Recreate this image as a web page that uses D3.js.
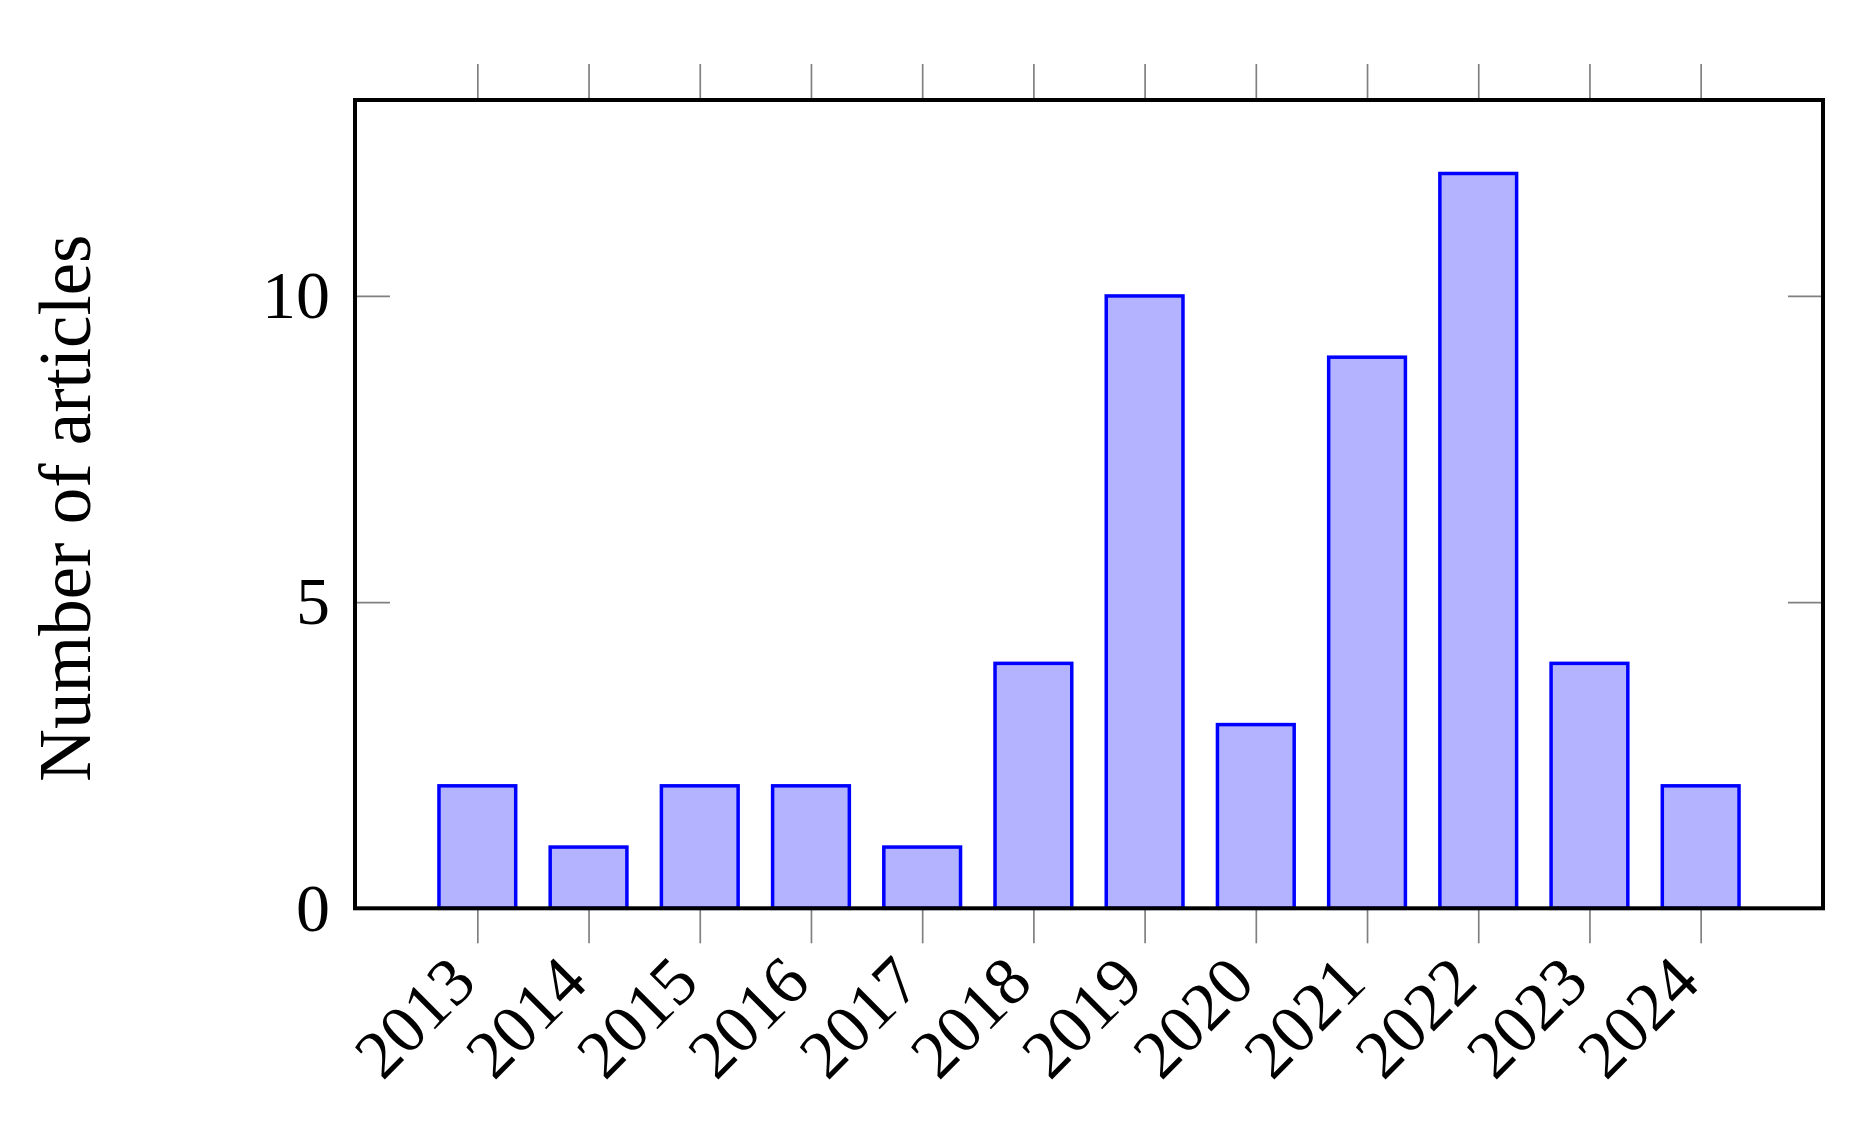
<!DOCTYPE html>
<html>
<head>
<meta charset="utf-8">
<script src="https://cdn.jsdelivr.net/npm/d3@7/dist/d3.min.js"></script>
<style>
  html, body { margin: 0; padding: 0; background: #ffffff; }
  svg { display: block; }
</style>
</head>
<body>
<svg id="chart" width="1869" height="1122"></svg>
<script>
// ---- data ----
const years = [2013, 2014, 2015, 2016, 2017, 2018, 2019, 2020, 2021, 2022, 2023, 2024];
const articles = [2, 1, 2, 2, 1, 4, 10, 3, 9, 12, 4, 2];
const yTicks = [0, 5, 10];
const yLabel = "Number of articles";

// ---- layout ----
const plotLeft = 355, plotRight = 1823, plotTop = 100, plotBottom = 908.3;
const fontFamily = "'Liberation Serif', 'Times New Roman', serif";

const svg = d3.select("#chart");

const x = d3.scaleLinear()
  .domain([d3.min(years) - 1.1, d3.max(years) + 1.1])
  .range([plotLeft, plotRight]);
const y = d3.scaleLinear()
  .domain([0, d3.max(articles) * 1.1])
  .range([plotBottom, plotTop]);

const barHalf = 0.345; // half bar width in data units

// ---- ticks ----
const tickColor = "#808080";
function styleAxis(g) {
  g.select(".domain").remove();
  g.selectAll(".tick line").attr("stroke", tickColor).attr("stroke-width", 1.7);
  g.selectAll(".tick text")
    .attr("fill", "#000")
    .style("font-family", fontFamily)
    .style("font-size", "68px");
}

// bottom axis (outside ticks, rotated labels)
const gBottom = svg.append("g")
  .attr("transform", `translate(0,${plotBottom})`)
  .call(d3.axisBottom(x).tickValues(years).tickFormat(d3.format("d")).tickSize(35).tickPadding(0));
styleAxis(gBottom);
gBottom.selectAll(".tick text")
  .attr("x", null).attr("y", null).attr("dy", null)
  .attr("text-anchor", "end")
  .attr("transform", "translate(1,77) rotate(-45)");

// top axis (outside ticks, no labels)
const gTop = svg.append("g")
  .attr("transform", `translate(0,${plotTop})`)
  .call(d3.axisTop(x).tickValues(years).tickFormat("").tickSize(36));
styleAxis(gTop);

// left axis (inside ticks)
const gLeft = svg.append("g")
  .attr("transform", `translate(${plotLeft},0)`)
  .call(d3.axisLeft(y).tickValues(yTicks).tickSize(-35).tickPadding(25));
styleAxis(gLeft);

// right axis (inside ticks, no labels)
const gRight = svg.append("g")
  .attr("transform", `translate(${plotRight},0)`)
  .call(d3.axisRight(y).tickValues(yTicks).tickFormat("").tickSize(-35));
styleAxis(gRight);

// ---- bars ----
const data = years.map((yr, i) => ({ year: yr, value: articles[i] }));
svg.append("g").selectAll("rect")
  .data(data)
  .join("rect")
  .attr("x", d => x(d.year - barHalf))
  .attr("width", d => x(d.year + barHalf) - x(d.year - barHalf))
  .attr("y", d => y(d.value))
  .attr("height", d => y(0) - y(d.value))
  .attr("fill", "#b3b3ff")
  .attr("stroke", "#0000ff")
  .attr("stroke-width", 3.5);

// ---- frame ----
svg.append("rect")
  .attr("x", plotLeft).attr("y", plotTop)
  .attr("width", plotRight - plotLeft).attr("height", plotBottom - plotTop)
  .attr("fill", "none")
  .attr("stroke", "#000")
  .attr("stroke-width", 4);

// ---- y label ----
svg.append("text")
  .attr("transform", `translate(90,${(plotTop + plotBottom) / 2 + 4}) rotate(-90)`)
  .attr("text-anchor", "middle")
  .style("font-family", fontFamily)
  .style("font-size", "73px")
  .attr("fill", "#000")
  .text(yLabel);
</script>
</body>
</html>
